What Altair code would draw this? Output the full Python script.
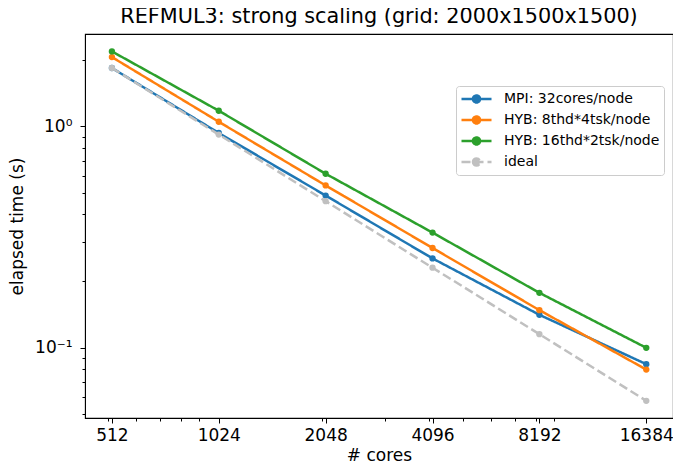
import altair as alt
import pandas as pd

cores = [512, 1024, 2048, 4096, 8192, 16384]
mpi = [1.838, 0.934, 0.487, 0.253, 0.1406, 0.0841]
hyb8 = [2.06, 1.05, 0.541, 0.282, 0.1476, 0.0795]
hyb16 = [2.185, 1.178, 0.611, 0.331, 0.1768, 0.0997]
ideal = [1.838, 0.919, 0.4595, 0.2297, 0.1149, 0.0574]
series = ["MPI: 32cores/node", "HYB: 8thd*4tsk/node", "HYB: 16thd*2tsk/node", "ideal"]
colors = ["#1f77b4", "#ff7f0e", "#2ca02c", "#c0c0c0"]
dashes = [[1, 0], [1, 0], [1, 0], [9, 4]]
x_major = [512, 1024, 2048, 4096, 8192, 16384]
x_minor = [500, 600, 700, 800, 900, 2000, 3000, 4000, 5000, 6000, 7000, 8000, 9000]
y_major = [0.1, 1]
y_minor = [0.05, 0.06, 0.07, 0.08, 0.09, 0.2, 0.3, 0.4, 0.5, 0.6, 0.7, 0.8, 0.9, 2]

rows = []
for name, vals in zip(series, [mpi, hyb8, hyb16, ideal]):
    for c, v in zip(cores, vals):
        rows.append({"cores": c, "time": v, "series": name})
df = pd.DataFrame(rows)

FONT = "DejaVu Sans"
# legend symbol: line with a dot in its middle
sym = "M-1,0L3,0M0.53,0A0.47,0.47,0,1,1,1.47,0A0.47,0.47,0,1,1,0.53,0"
leg = alt.Legend(
    title=None, orient="none", legendX=371, legendY=52,
    symbolType=sym, symbolSize=225, symbolStrokeWidth=2.5,
    labelFont=FONT, labelFontSize=14, labelColor="black", labelOffset=26,
    padding=4, rowPadding=3, strokeColor="#cccccc", fillColor="white",
    cornerRadius=3,
)
cscale = alt.Scale(domain=series, range=colors)
dscale = alt.Scale(domain=series, range=dashes)
xscale = alt.Scale(type="log", domain=[430, 19484], nice=False)
yscale = alt.Scale(type="log", domain=[0.048, 2.62], nice=False)

xmaj_js = "[" + ",".join(str(v) for v in x_major) + "]"
ymaj_js = "[" + ",".join(str(v) for v in y_major) + "]"

xax = alt.Axis(
    values=x_major + x_minor, title="# cores", labelFont=FONT, labelFontSize=17,
    titleFont=FONT, titleFontSize=17, titleFontWeight="normal",
    labelColor="black", titleColor="black", tickColor="black",
    domainColor="black", labelPadding=4, grid=False, orient="bottom",
    labelFlush=False, labelOverlap=False,
    titleBaseline="alphabetic", titleY=42,
    tickSize={"condition": {"test": f"indexof({xmaj_js}, datum.value) >= 0", "value": 5}, "value": 3},
    labelExpr=f"indexof({xmaj_js}, datum.value) >= 0 ? format(datum.value, 'd') : ''",
)
yax = alt.Axis(
    values=y_major + y_minor, title="elapsed time (s)", labelFont=FONT, labelFontSize=17,
    titleFont=FONT, titleFontSize=17, titleFontWeight="normal",
    labelColor="black", titleColor="black", tickColor="black",
    domainColor="black", labelPadding=8, grid=False, orient="left",
    labelOverlap=False, titlePadding=8,
    tickSize={"condition": {"test": f"indexof({ymaj_js}, datum.value) >= 0", "value": 5}, "value": 3},
    labelExpr="datum.value == 1 ? '10⁰' : (datum.value == 0.1 ? '10⁻¹' : '')",
)

main = df[df.series != "ideal"]
idl = df[df.series == "ideal"]

lines = alt.Chart(main).mark_line(strokeWidth=2.5).encode(
    x=alt.X("cores:Q", scale=xscale, axis=xax),
    y=alt.Y("time:Q", scale=yscale, axis=yax),
    color=alt.Color("series:N", scale=cscale, legend=leg),
    strokeDash=alt.StrokeDash("series:N", scale=dscale, legend=leg),
    detail="series:N",
)
pts = alt.Chart(main).mark_point(filled=True, size=40, opacity=1).encode(
    x=alt.X("cores:Q", scale=xscale),
    y=alt.Y("time:Q", scale=yscale),
    color=alt.Color("series:N", scale=cscale, legend=leg),
    fill=alt.Fill("series:N", scale=cscale, legend=leg),
)
iline = alt.Chart(idl).mark_line(strokeWidth=2.5).encode(
    x=alt.X("cores:Q", scale=xscale),
    y=alt.Y("time:Q", scale=yscale),
    color=alt.Color("series:N", scale=cscale, legend=leg),
    strokeDash=alt.StrokeDash("series:N", scale=dscale, legend=leg),
)
ipts = alt.Chart(idl).mark_point(filled=True, size=40, opacity=1).encode(
    x=alt.X("cores:Q", scale=xscale),
    y=alt.Y("time:Q", scale=yscale),
    color=alt.Color("series:N", scale=cscale, legend=leg),
    fill=alt.Fill("series:N", scale=cscale, legend=leg),
)

chart = alt.layer(lines, pts, iline, ipts).properties(
    width=588, height=384,
    autosize=alt.AutoSizeParams(type="none"),
    padding={"left": 77, "top": 26, "right": 0, "bottom": 44},
    background="white",
    title=alt.Title("REFMUL3: strong scaling (grid: 2000x1500x1500)", font=FONT,
                    fontSize=20.8, fontWeight="normal", color="black", offset=6),
).configure_view(stroke="black", strokeWidth=1.1)

chart.save("out.html", embed_options={"renderer": "svg", "actions": False})
